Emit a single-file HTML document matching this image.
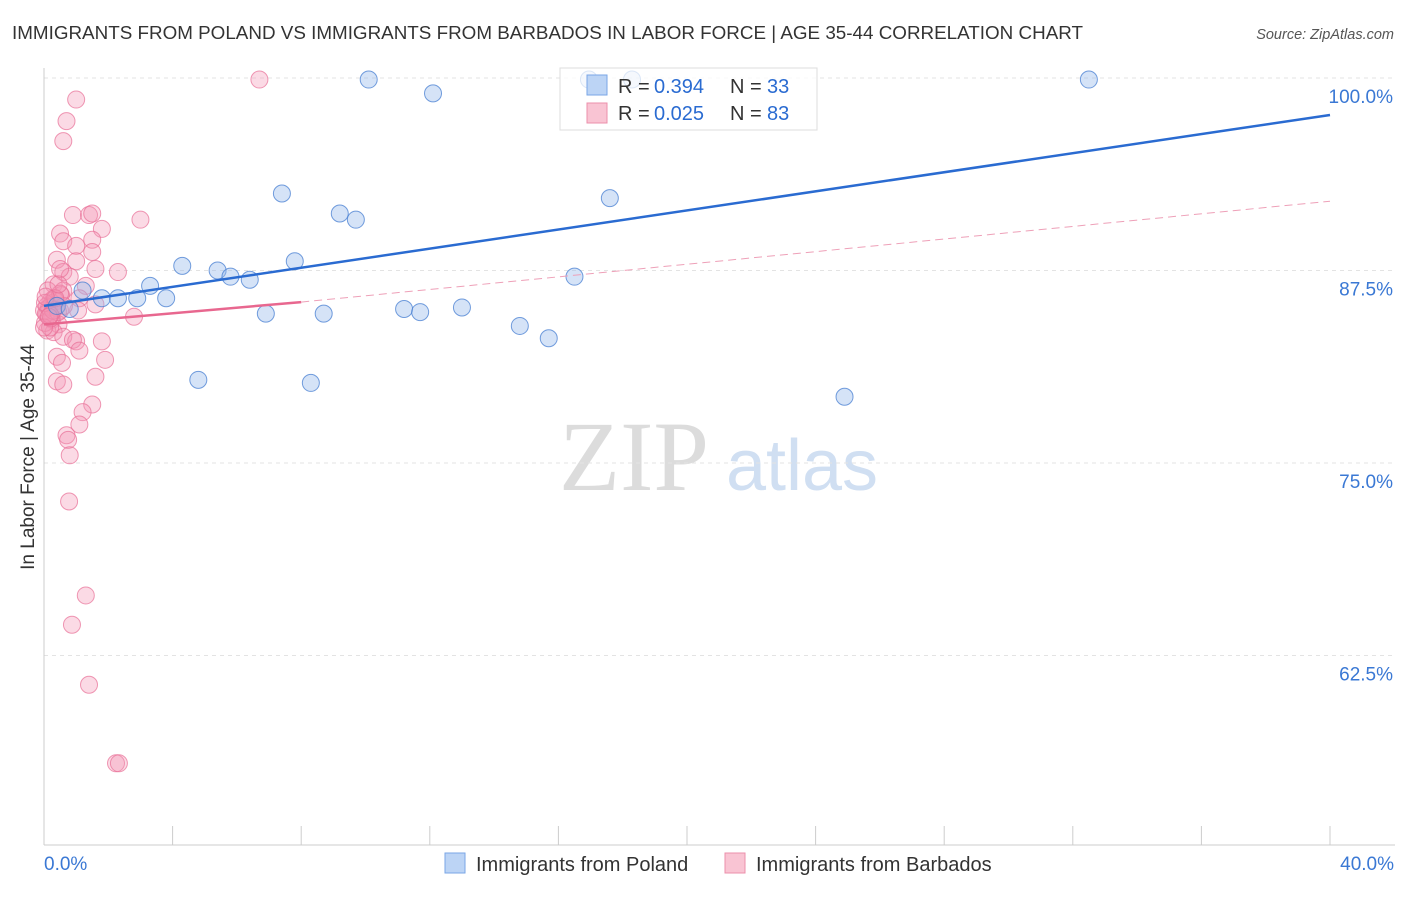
<!DOCTYPE html>
<html><head><meta charset="utf-8">
<style>
body{margin:0;background:#fff;font-family:"Liberation Sans",sans-serif;}
</style></head>
<body>
<svg id="chart" width="1406" height="892" xmlns="http://www.w3.org/2000/svg" font-family="Liberation Sans, sans-serif">
<text x="12" y="39" font-size="18" fill="#333" textLength="1071" lengthAdjust="spacingAndGlyphs">IMMIGRANTS FROM POLAND VS IMMIGRANTS FROM BARBADOS IN LABOR FORCE | AGE 35-44 CORRELATION CHART</text>
<text x="1394" y="39" font-size="14.5" fill="#555" text-anchor="end" font-style="italic">Source: ZipAtlas.com</text>
<text transform="translate(34,457) rotate(-90)" font-size="19" fill="#333" text-anchor="middle">In Labor Force | Age 35-44</text>
<g>
<text x="634" y="490" font-size="100" fill="#dcdcdc" text-anchor="middle" font-family="Liberation Serif, serif">ZIP</text>
<text x="802" y="490" font-size="72" fill="#d0dff2" text-anchor="middle">atlas</text>
</g>
<g id="grid"></g><g id="axes"></g><g id="pts"></g><g id="lines"></g>
<g>
<rect x="560" y="68" width="257" height="62" fill="rgba(255,255,255,0.75)" stroke="#ddd"/>
<rect x="587" y="75" width="20" height="20" fill="#bcd4f5" stroke="#7aa6e6"/>
<text x="618" y="93" font-size="20" fill="#333">R =</text>
<text x="654" y="93" font-size="20" fill="#2a6bd1">0.394</text>
<text x="730" y="93" font-size="20" fill="#333">N =</text>
<text x="767" y="93" font-size="20" fill="#2a6bd1">33</text>
<rect x="587" y="103" width="20" height="20" fill="#f9c4d3" stroke="#ec8fab"/>
<text x="618" y="120" font-size="20" fill="#333">R =</text>
<text x="654" y="120" font-size="20" fill="#2a6bd1">0.025</text>
<text x="730" y="120" font-size="20" fill="#333">N =</text>
<text x="767" y="120" font-size="20" fill="#2a6bd1">83</text>
</g>
<g>
<rect x="445" y="853" width="20" height="20" fill="#bcd4f5" stroke="#7aa6e6"/>
<text x="476" y="871" font-size="20" fill="#333">Immigrants from Poland</text>
<rect x="725" y="853" width="20" height="20" fill="#f9c4d3" stroke="#ec8fab"/>
<text x="756" y="871" font-size="20" fill="#333">Immigrants from Barbados</text>
</g>
</svg>
<script>
const yTicks=[62.5,75,87.5,100];
const xTickLabels=["0.0%","40.0%"];
const polandX=[10.1,12.1,16.95,18.29,32.5,7.4,9.2,9.7,17.6,4.3,5.4,5.8,6.4,7.8,3.3,1.2,1.8,2.3,2.9,3.8,6.9,8.7,11.2,11.7,13.0,16.5,14.8,15.7,4.8,8.3,24.9,0.4,0.8];
const polandY=[99.9,99.0,99.9,99.9,99.9,92.5,91.2,90.8,92.2,87.8,87.5,87.1,86.9,88.1,86.5,86.2,85.7,85.7,85.7,85.7,84.7,84.7,85.0,84.8,85.1,87.1,83.9,83.1,80.4,80.2,79.3,85.2,85.0];
const barbadosX=[6.7,1.0,0.7,0.6,3.0,0.9,1.4,1.5,1.8,0.5,0.6,1.0,1.5,1.5,0.4,1.0,1.6,2.3,0.6,0.8,0.5,1.3,0.3,0.6,1.1,1.6,0.2,0.3,0.5,0.1,0.25,0.45,0.1,0.3,1.06,2.8,0.6,1.0,1.8,0.9,1.1,0.4,1.9,0.56,1.6,0.4,0.6,1.5,1.2,1.1,0.7,0.75,0.8,0.78,1.3,0.87,1.4,2.24,2.33,0.03,0.19,0.09,0.25,0.4,0.0,0.16,0.31,0.06,0.22,0.37,0.44,0.53,0.62,0.0,0.12,0.28,0.03,0.5,0.2,0.35,0.15,0.45,0.05];
const barbadosY=[99.9,98.6,97.2,95.9,90.8,91.1,91.1,91.2,90.2,89.9,89.4,89.1,89.5,88.7,88.2,88.1,87.6,87.4,87.4,87.1,87.6,86.5,86.6,86.2,85.7,85.3,85.5,85.2,84.9,84.7,84.3,84.0,83.6,83.5,84.9,84.5,83.2,82.9,82.9,83.0,82.3,81.9,81.7,81.5,80.6,80.3,80.1,78.8,78.3,77.5,76.8,76.5,75.5,72.5,66.4,64.5,60.6,55.5,55.5,84.1,83.8,85.2,85.4,85.2,84.9,85.1,85.7,84.7,84.4,85.5,84.8,85.9,85.2,83.8,86.2,84.9,85.4,86.0,84.6,85.7,84.5,86.6,85.8];
const polandLine=[85.2,97.6];
const barbadosLine=[84.0,85.45,92.0];
const NS="http://www.w3.org/2000/svg";
const X=v=>44+v*32.15, Y=v=>78+(100-v)*15.4;
function mk(t,a,p){const e=document.createElementNS(NS,t);for(const k in a)e.setAttribute(k,a[k]);p.appendChild(e);return e;}
const grid=document.getElementById('grid'),axes=document.getElementById('axes'),pts=document.getElementById('pts'),lines=document.getElementById('lines');
yTicks.forEach(t=>{
 const l=mk('line',{x1:44,x2:1395,y1:Y(t),y2:Y(t),stroke:'#e3e3e3','stroke-dasharray':'4,4'},grid);
 
 const tx=mk('text',{x:1393,y:Y(t)+25,'font-size':19,fill:'#3a78d4','text-anchor':'end'},axes);
 tx.textContent=t.toFixed(1)+'%';
 
});
const ax=mk('line',{x1:44,x2:44,y1:68,y2:845,stroke:'#ccc'},axes);

const bx=mk('line',{x1:44,x2:1395,y1:845,y2:845,stroke:'#ccc'},axes);

for(let i=0;i<=10;i++){const t=mk('line',{x1:X(i*4),x2:X(i*4),y1:826,y2:845,stroke:'#ccc'},axes);
 }
[[0,'start',44],[40,'end',1394]].forEach((d,i)=>{const t=mk('text',{x:d[2],y:870,'font-size':19,fill:'#3a78d4','text-anchor':d[1]},axes);t.textContent=xTickLabels[i];
 });
barbadosX.forEach((x,i)=>{const c=mk('circle',{cx:X(x),cy:Y(barbadosY[i]),r:8.5,fill:'rgba(244,150,180,0.35)',stroke:'rgba(232,110,150,0.7)','stroke-width':1},pts);
 });
polandX.forEach((x,i)=>{const c=mk('circle',{cx:X(x),cy:Y(polandY[i]),r:8.5,fill:'rgba(150,185,235,0.4)',stroke:'rgba(70,125,210,0.75)','stroke-width':1},pts);
 });
const pl=mk('line',{x1:X(0),y1:Y(polandLine[0]),x2:X(40),y2:Y(polandLine[1]),stroke:'#2a6bd1','stroke-width':2.5},lines);

const bl=mk('line',{x1:X(0),y1:Y(barbadosLine[0]),x2:X(8),y2:Y(barbadosLine[1]),stroke:'#e8678f','stroke-width':2.5},lines);

const bd=mk('line',{x1:X(8),y1:Y(barbadosLine[1]),x2:X(40),y2:Y(barbadosLine[2]),stroke:'#eea0b8','stroke-width':1,'stroke-dasharray':'8,5'},lines);

</script>
</body></html>
